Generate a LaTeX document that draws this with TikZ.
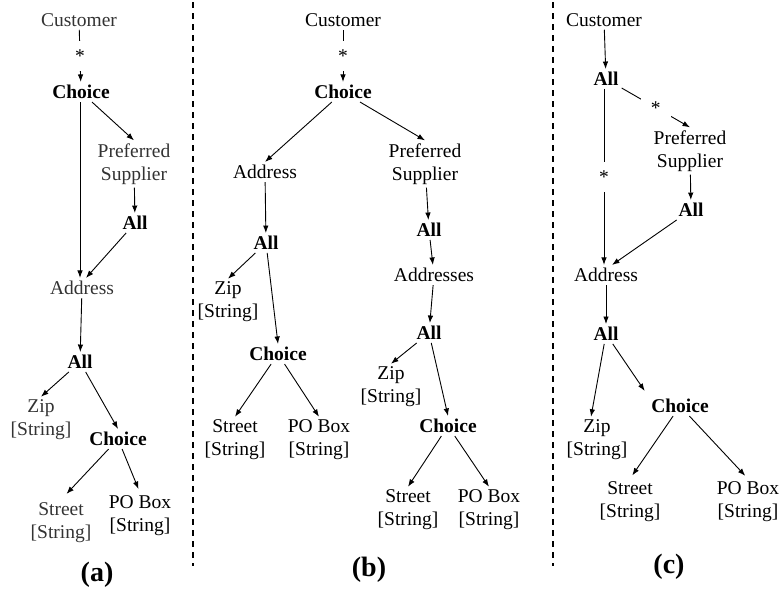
\documentclass[tikz,border=0pt]{standalone}
\usepackage{fontspec}
\setmainfont{Liberation Serif}
\usetikzlibrary{arrows.meta}

\newcommand{\strtype}{{[String]}}

\begin{document}
\begin{tikzpicture}[x=1pt,y=-1pt]

      \tikzset{elem/.style={font=\fontsize{19.5}{23}\selectfont, align=center, inner sep=3pt},
               grp/.style={elem, font=\fontsize{19.5}{23}\selectfont\bfseries},
               faded/.style={text=black!80},
               rep/.style={fill=white, inner sep=0pt, minimum size=30pt, font=\fontsize{19.5}{23}\selectfont},
               link/.style={draw, line width=0.9pt, -{Latex[length=7.5pt,width=5.5pt]}},
               sep/.style={line width=1.3pt, dash pattern=on 6pt off 5pt},
               capt/.style={font=\fontsize{28}{32}\selectfont\bfseries}}
      \useasboundingbox (0,0) rectangle (779,592);
%% Separators
      	\draw[sep] (193,2) -- (193,566);
      	\draw[sep] (553,2) -- (553,566);
%% Tree (a)
      	\node[elem, faded] (custA) at (79,20) {Customer};
      	\node[grp] (choA) at (81,92) {Choice};
      	\node[elem, faded] (prefA) at (134,164) {Preferred\\Supplier};
      	\node[grp] (allA) at (135,223) {All};
      	\node[elem, faded] (addrA) at (82,288) {Address};
      	\node[grp] (allA2) at (80,362) {All};
      	\node[elem, faded] (zipA) at (41,420) {Zip\\\strtype};
      	\node[grp] (choA2) at (118,439) {Choice};
      	\node[elem, faded] (strA) at (61,523) {Street\\\strtype};
      	\node[elem] (poA) at (140,516) {PO Box\\\strtype};
      	\node[capt] (capA) at (97,575) {(a)};
%% Tree (b)
      	\node[elem] (custB) at (343,20) {Customer};
      	\node[grp] (choB) at (343,92) {Choice};
      	\node[elem] (addrB) at (265,172) {Address};
      	\node[elem] (prefB) at (425,164) {Preferred\\Supplier};
      	\node[grp] (allB) at (266,243) {All};
      	\node[elem] (zipB) at (228,302) {Zip\\\strtype};
      	\node[grp] (choB2) at (278,354) {Choice};
      	\node[elem] (strB) at (235,440) {Street\\\strtype};
      	\node[elem] (poB) at (319,440) {PO Box\\\strtype};
      	\node[grp] (allB2) at (429,230) {All};
      	\node[elem] (addsB) at (434,275) {Addresses};
      	\node[grp] (allB3) at (429,333) {All};
      	\node[elem] (zipB2) at (391,387) {Zip\\\strtype};
      	\node[grp] (choB3) at (448,426) {Choice};
      	\node[elem] (strB2) at (408,510) {Street\\\strtype};
      	\node[elem] (poB2) at (489,510) {PO Box\\\strtype};
      	\node[capt] (capB) at (369,570) {(b)};
%% Tree (c)
      	\node[elem] (custC) at (604,20) {Customer};
      	\node[grp] (allC) at (606,79) {All};
      	\node[elem] (prefC) at (690,151) {Preferred\\Supplier};
      	\node[grp] (allC2) at (691,210) {All};
      	\node[elem] (addrC) at (606,275) {Address};
      	\node[grp] (allC3) at (606,334) {All};
      	\node[elem] (zipC) at (597,440) {Zip\\\strtype};
      	\node[grp] (choC) at (680,406) {Choice};
      	\node[elem] (strC) at (630,502) {Street\\\strtype};
      	\node[elem] (poC) at (748,502) {PO Box\\\strtype};
      	\node[capt] (capC) at (669,567) {(c)};
%Edges (a)
		\path (custA) edge[link] node[rep] {*} (choA);
		\path ([xshift=-1pt]choA.south) edge[link] ([xshift=-2pt]addrA.north);
		\path (choA) edge[link] (prefA.north);
		\path (prefA) edge[link] (allA);
		\path (allA) edge[link] ([xshift=4pt]addrA.north);
		\path (addrA) edge[link] (allA2);
		\path (allA2) edge[link] (zipA.north);
		\path (allA2) edge[link] (choA2.north);
		\path (choA2) edge[link, shorten >=8pt] (strA.north);
		\path (choA2) edge[link, shorten >=4pt] (poA.north);
%Edges (b)
		\path (custB) edge[link] node[rep] {*} (choB);
		\path (choB) edge[link] (addrB.north);
		\path (choB) edge[link] (prefB.north);
		\path (addrB) edge[link] (allB);
		\path (allB) edge[link] (zipB.north);
		\path (allB) edge[link] (choB2.north);
		\path (choB2) edge[link] (strB.north);
		\path (choB2) edge[link] (poB.north);
		\path (prefB) edge[link] (allB2);
		\path (allB2) edge[link] (addsB);
		\path (addsB) edge[link] (allB3);
		\path (allB3) edge[link] (zipB2.north);
		\path (allB3) edge[link] (choB3.north);
		\path (choB3) edge[link] (strB2.north);
		\path (choB3) edge[link] (poB2.north);
%Edges (c)
		\path (custC) edge[link] (allC);
		\path (allC) edge[link] node[rep] {*} (prefC.north);
		\path ([xshift=-2pt]allC.south) edge[link] node[rep] {*} ([xshift=-2pt]addrC.north);
		\path (prefC) edge[link] (allC2);
		\path (allC2) edge[link] ([xshift=6pt]addrC.north);
		\path (addrC) edge[link] (allC3);
		\path (allC3) edge[link] ([xshift=-6pt]zipC.north);
		\path (allC3) edge[link, shorten >=6pt] (choC.north west);
		\path (choC) edge[link, shorten >=4pt] (strC.north);
		\path (choC) edge[link, shorten >=4pt] (poC.north);

	\end{tikzpicture}
\end{document}
